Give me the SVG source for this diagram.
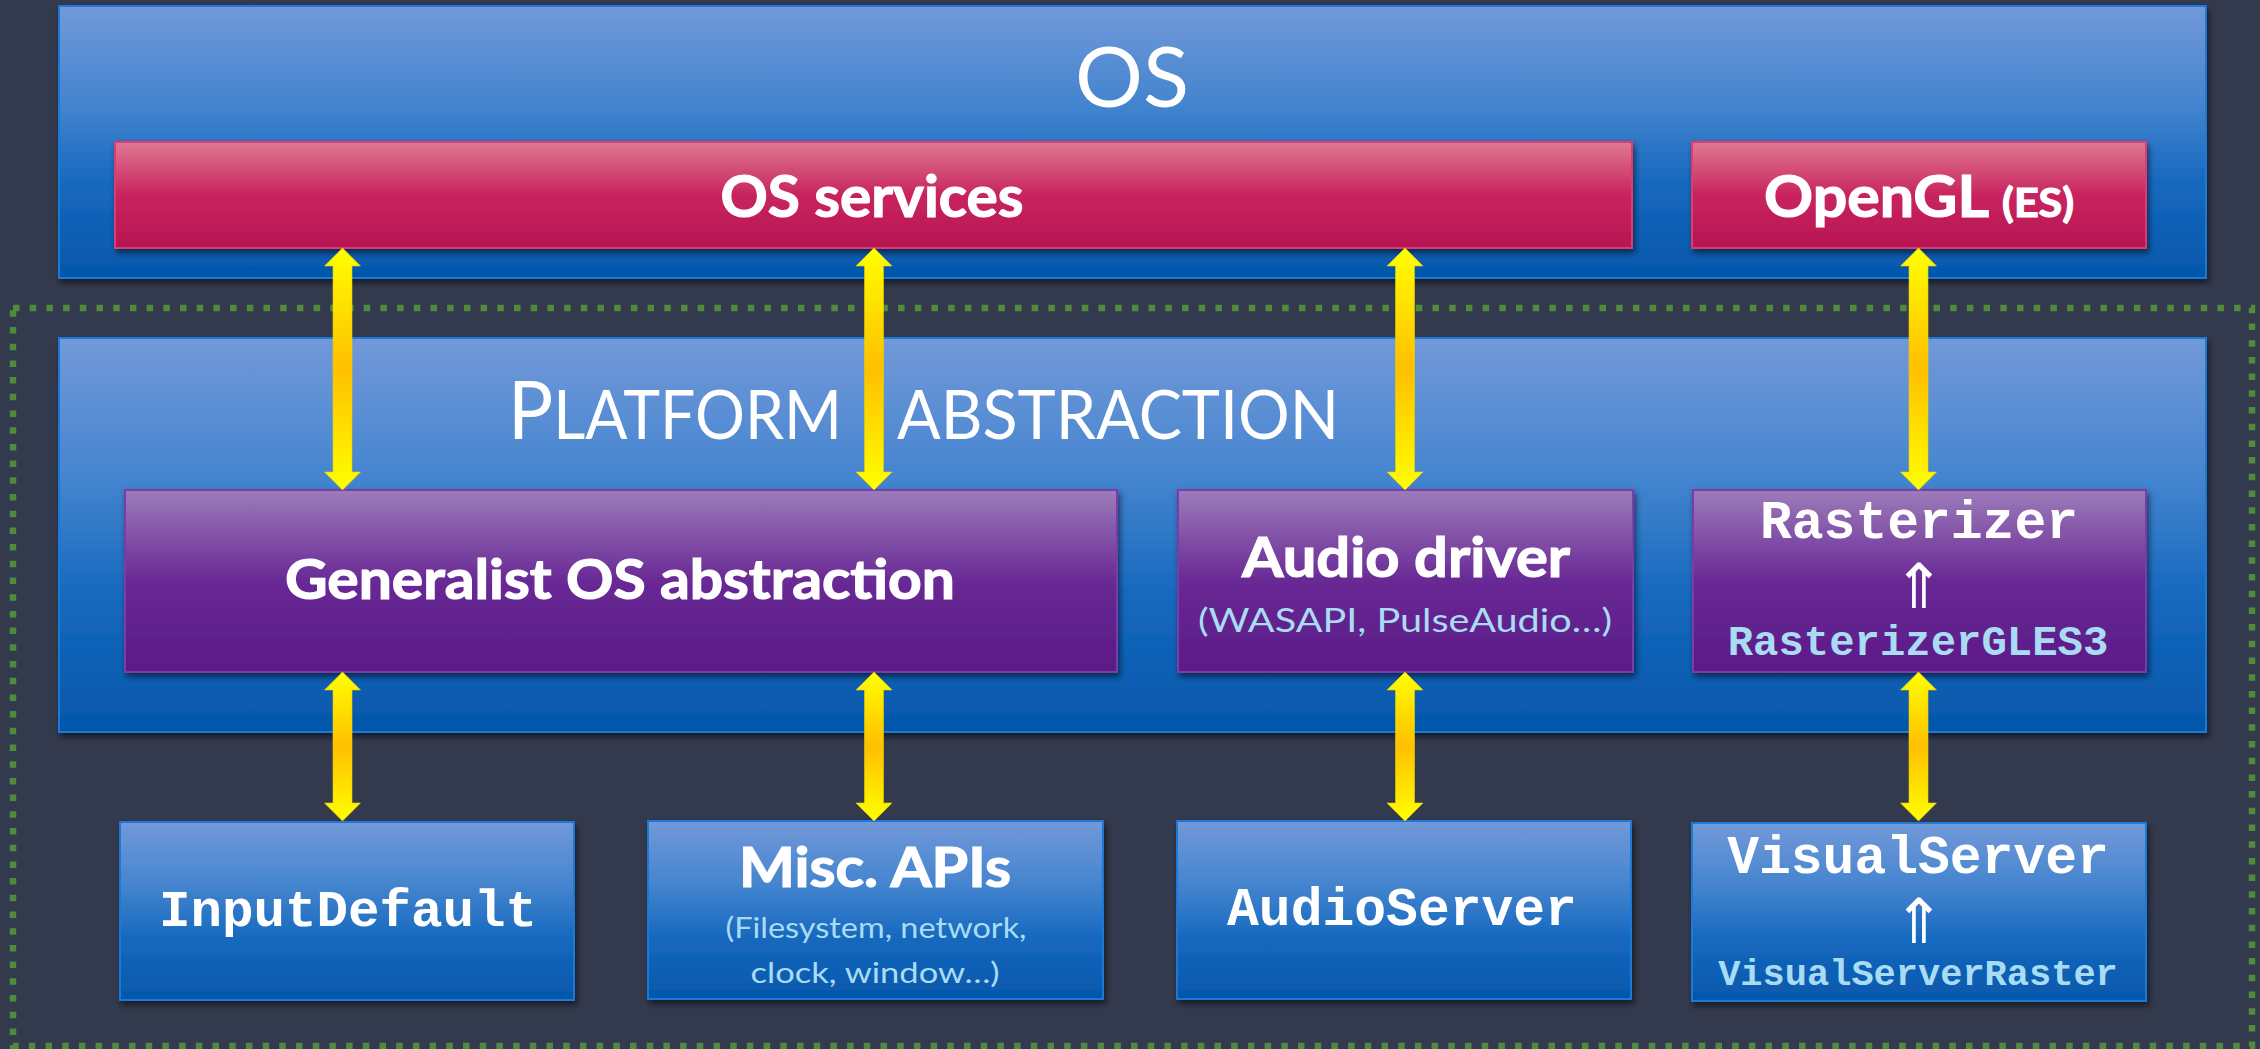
<svg xmlns="http://www.w3.org/2000/svg" width="2260" height="1049" viewBox="0 0 2260 1049">
  <defs>
    <linearGradient id="gBlue" x1="0" y1="0" x2="0" y2="1">
      <stop offset="0" stop-color="#7299d9"/>
      <stop offset="0.35" stop-color="#4585cf"/>
      <stop offset="0.65" stop-color="#1769bf"/>
      <stop offset="1" stop-color="#0457ab"/>
    </linearGradient>
    <linearGradient id="gPink" x1="0" y1="0" x2="0" y2="1">
      <stop offset="0" stop-color="#df7993"/>
      <stop offset="0.5" stop-color="#c8245f"/>
      <stop offset="1" stop-color="#b71552"/>
    </linearGradient>
    <linearGradient id="gPurple" x1="0" y1="0" x2="0" y2="1">
      <stop offset="0" stop-color="#9c7cba"/>
      <stop offset="0.5" stop-color="#692995"/>
      <stop offset="1" stop-color="#5b1a87"/>
    </linearGradient>
    <linearGradient id="gArrow" x1="0" y1="0" x2="0" y2="1">
      <stop offset="0" stop-color="#ffff00"/>
      <stop offset="0.5" stop-color="#ffbf00"/>
      <stop offset="1" stop-color="#ffff00"/>
    </linearGradient>
    <filter id="shadow" x="-5%" y="-10%" width="110%" height="125%">
      <feDropShadow dx="2" dy="4" stdDeviation="3" flood-color="#000" flood-opacity="0.55"/>
    </filter>
    <style>
      .blue { fill: url(#gBlue); stroke: #1f7ad6; stroke-width: 2; }
      .pink { fill: url(#gPink); stroke: #de3a70; stroke-width: 2; }
      .purple { fill: url(#gPurple); stroke: #7b3aaa; stroke-width: 2; }
      .shadow { filter: url(#shadow); }
      .arrow { fill: url(#gArrow); stroke: #e6d200; stroke-width: 0.6; }
      .title { font-family: Lato, "Noto Sans", sans-serif; font-weight: 700; fill: #ffffff; stroke: #ffffff; stroke-width: 1.2; text-anchor: middle; }
      .sub { font-family: Lato, "Noto Sans", sans-serif; font-weight: 400; fill: #a9dcf3; text-anchor: middle; }
      .thin { font-family: Lato, "Noto Sans", sans-serif; font-weight: 400; fill: #ffffff; }
      .mono { font-family: "Liberation Mono", "DejaVu Sans Mono", monospace; font-weight: 700; fill: #ffffff; text-anchor: middle; }
      .mono-sub { font-family: "Liberation Mono", "DejaVu Sans Mono", monospace; font-weight: 700; fill: #a9dcf3; text-anchor: middle; }
      .sym { font-family: "DejaVu Sans", sans-serif; fill: #ffffff; text-anchor: middle; }
    </style>
  </defs>

  <!-- background -->
  <rect x="0" y="0" width="2260" height="1049" fill="#333a4e"/>

  <!-- engine boundary (dotted) -->
  <g id="engine-boundary">
    <rect x="13" y="308" width="2239" height="738" fill="none" stroke="#4f8b3d" stroke-width="6.5" stroke-dasharray="6.5 10.2"/>
  </g>

  <!-- OS layer -->
  <g id="os">
    <rect class="blue shadow" x="59" y="6" width="2147" height="272"/>
    <text class="thin" x="1132" y="107" font-size="84" text-anchor="middle" textLength="114" lengthAdjust="spacingAndGlyphs">OS</text>
  </g>

  <g id="os-services">
    <rect class="pink shadow" x="115" y="142" width="1517" height="106"/>
    <text class="title" x="872" y="217" font-size="58" textLength="303" lengthAdjust="spacingAndGlyphs">OS services</text>
  </g>

  <g id="opengl">
    <rect class="pink shadow" x="1692" y="142" width="454" height="106"/>
    <text class="title" x="1919" y="217" font-size="58" textLength="310" lengthAdjust="spacingAndGlyphs">OpenGL <tspan font-size="41">(ES)</tspan></text>
  </g>

  <!-- Platform abstraction layer -->
  <g id="platform">
    <rect class="blue shadow" x="59" y="338" width="2147" height="394"/>
    <text class="thin" x="508" y="439" font-size="68" textLength="334" lengthAdjust="spacingAndGlyphs"><tspan font-size="82">P</tspan>LATFORM</text>
    <text class="thin" x="897" y="439" font-size="68" textLength="442" lengthAdjust="spacingAndGlyphs">ABSTRACTION</text>
  </g>

  <g id="generalist">
    <rect class="purple shadow" x="125" y="490" width="992" height="182"/>
    <text class="title" x="620" y="599" font-size="55" textLength="670" lengthAdjust="spacingAndGlyphs">Generalist OS abstraction</text>
  </g>

  <g id="audio-driver">
    <rect class="purple shadow" x="1178" y="490" width="455" height="182"/>
    <text class="title" x="1406" y="577" font-size="55" textLength="328" lengthAdjust="spacingAndGlyphs">Audio driver</text>
    <text class="sub" x="1405" y="632" font-size="33" textLength="414" lengthAdjust="spacingAndGlyphs">(WASAPI, PulseAudio…)</text>
  </g>

  <g id="rasterizer">
    <rect class="purple shadow" x="1693" y="490" width="453" height="182"/>
    <text class="mono" x="1919" y="538" font-size="53">Rasterizer</text>
    <text class="sym" x="1919" y="608" font-size="62">⇑</text>
    <text class="mono-sub" x="1918" y="655" font-size="42.3">RasterizerGLES3</text>
  </g>

  <!-- Engine servers -->
  <g id="input-default">
    <rect class="blue shadow" x="120" y="822" width="454" height="178"/>
    <text class="mono" x="348" y="926" font-size="52.5">InputDefault</text>
  </g>

  <g id="misc-apis">
    <rect class="blue shadow" x="648" y="821" width="455" height="178"/>
    <text class="title" x="875" y="887" font-size="55" textLength="272" lengthAdjust="spacingAndGlyphs">Misc. APIs</text>
    <text class="sub" x="876" y="938" font-size="29" textLength="301" lengthAdjust="spacingAndGlyphs">(Filesystem, network,</text>
    <text class="sub" x="875" y="983" font-size="29" textLength="249" lengthAdjust="spacingAndGlyphs">clock, window…)</text>
  </g>

  <g id="audio-server">
    <rect class="blue shadow" x="1177" y="821" width="454" height="178"/>
    <text class="mono" x="1402" y="925" font-size="53">AudioServer</text>
  </g>

  <g id="visual-server">
    <rect class="blue shadow" x="1692" y="823" width="454" height="178"/>
    <text class="mono" x="1918" y="873" font-size="53">VisualServer</text>
    <text class="sym" x="1919" y="943" font-size="62">⇑</text>
    <text class="mono-sub" x="1918" y="985" font-size="37">VisualServerRaster</text>
  </g>

  <!-- bidirectional connectors -->
  <g id="connectors">
    <path class="arrow" d="M342.5,248 L360.5,266 L352,266 L352,472 L360.5,472 L342.5,490 L324.5,472 L333,472 L333,266 L324.5,266 Z"/>
    <path class="arrow" d="M874,248 L892,266 L883.5,266 L883.5,472 L892,472 L874,490 L856,472 L864.5,472 L864.5,266 L856,266 Z"/>
    <path class="arrow" d="M1405,248 L1423,266 L1414.5,266 L1414.5,472 L1423,472 L1405,490 L1387,472 L1395.5,472 L1395.5,266 L1387,266 Z"/>
    <path class="arrow" d="M1918.5,248 L1936.5,266 L1928,266 L1928,472 L1936.5,472 L1918.5,490 L1900.5,472 L1909,472 L1909,266 L1900.5,266 Z"/>
    <path class="arrow" d="M342.5,672 L360.5,690 L352,690 L352,803 L360.5,803 L342.5,821 L324.5,803 L333,803 L333,690 L324.5,690 Z"/>
    <path class="arrow" d="M874,672 L892,690 L883.5,690 L883.5,803 L892,803 L874,821 L856,803 L864.5,803 L864.5,690 L856,690 Z"/>
    <path class="arrow" d="M1405,672 L1423,690 L1414.5,690 L1414.5,803 L1423,803 L1405,821 L1387,803 L1395.5,803 L1395.5,690 L1387,690 Z"/>
    <path class="arrow" d="M1918.5,672 L1936.5,690 L1928,690 L1928,803 L1936.5,803 L1918.5,821 L1900.5,803 L1909,803 L1909,690 L1900.5,690 Z"/>
  </g>
</svg>
